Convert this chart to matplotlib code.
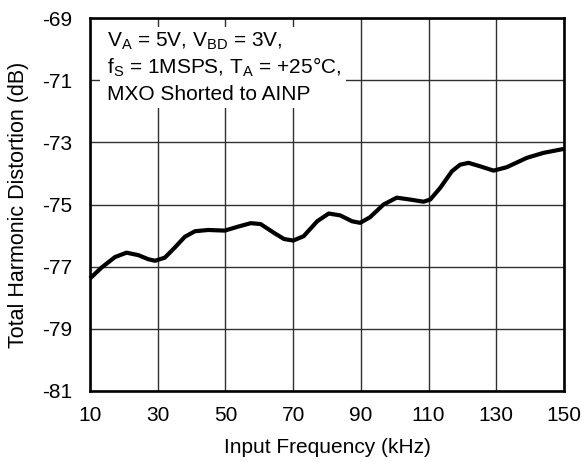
import matplotlib
matplotlib.use('Agg')
import matplotlib.pyplot as plt
from matplotlib.patches import Rectangle

plt.rcParams['font.family'] = ['Liberation Sans', 'DejaVu Sans']
plt.rcParams['mathtext.fontset'] = 'custom'
plt.rcParams['mathtext.rm'] = 'Liberation Sans'
plt.rcParams['axes.unicode_minus'] = False

# Data
freq_khz = [10, 13.4, 17.4, 20.8, 24.3, 27.2, 29.2, 32.1, 35.1, 38, 41, 44.9,
            49.8, 53.8, 57.5, 60.4, 64.3, 67.3, 70, 73.1, 77.1, 80.5, 83.9,
            87.4, 89.8, 92.7, 96.7, 100.6, 104.5, 108.5, 110.5, 113.4, 116.9,
            119.3, 121.8, 125.2, 129.2, 133.1, 139, 143.9, 150]
thd_db = [-77.38, -77.03, -76.69, -76.55, -76.63, -76.76, -76.81, -76.71, -76.38,
          -76.04, -75.86, -75.82, -75.84, -75.71, -75.60, -75.63, -75.91, -76.11,
          -76.16, -76.02, -75.54, -75.29, -75.35, -75.54, -75.59, -75.41, -75.00,
          -74.78, -74.84, -74.91, -74.84, -74.47, -73.93, -73.72, -73.66, -73.77,
          -73.91, -73.80, -73.50, -73.34, -73.21]

x_ticks = [10, 30, 50, 70, 90, 110, 130, 150]
y_ticks = [-81, -79, -77, -75, -73, -71, -69]

note_lines = [r'V$_\mathregular{A}$ = 5V, V$_\mathregular{BD}$ = 3V,',
              r'f$_\mathregular{S}$ = 1MSPS, T$_\mathregular{A}$ = +25°C,',
              'MXO Shorted to AINP']

fig = plt.figure(figsize=(5.82, 4.62), dpi=100)
ax = fig.add_axes([90 / 582, 1 - 391 / 462, 474 / 582, 373 / 462])

ax.plot(freq_khz, thd_db, color='black', linewidth=3.0, solid_joinstyle='round',
        solid_capstyle='butt', zorder=4, clip_on=False)

ax.set_xlim(10, 150)
ax.set_ylim(-81, -69)
ax.set_xticks(x_ticks)
ax.set_yticks(y_ticks)
ax.grid(True, color='#303030', linewidth=1.0)
ax.set_axisbelow(True)
ax.tick_params(length=0, labelsize=15, colors='black')
ax.tick_params(axis='x', pad=11)
ax.tick_params(axis='y', pad=13)

for s in ax.spines.values():
    s.set_linewidth(1.9)
    s.set_zorder(5)

ax.set_xlabel('Input Frequency (kHz)', fontsize=15, labelpad=9)
ax.set_ylabel('Total Harmonic Distortion (dB)', fontsize=15.5, labelpad=9)

# white box behind the conditions text
ax.add_patch(Rectangle((0.021, 0.759), 0.52, 0.217, transform=ax.transAxes,
                       facecolor='white', edgecolor='none', zorder=2))
for yy, line in zip([0.923, 0.852, 0.780], note_lines):
    ax.text(0.036, yy, line, transform=ax.transAxes, fontsize=15,
            va='baseline', ha='left', zorder=3)

fig.savefig('out.png', dpi=100)
